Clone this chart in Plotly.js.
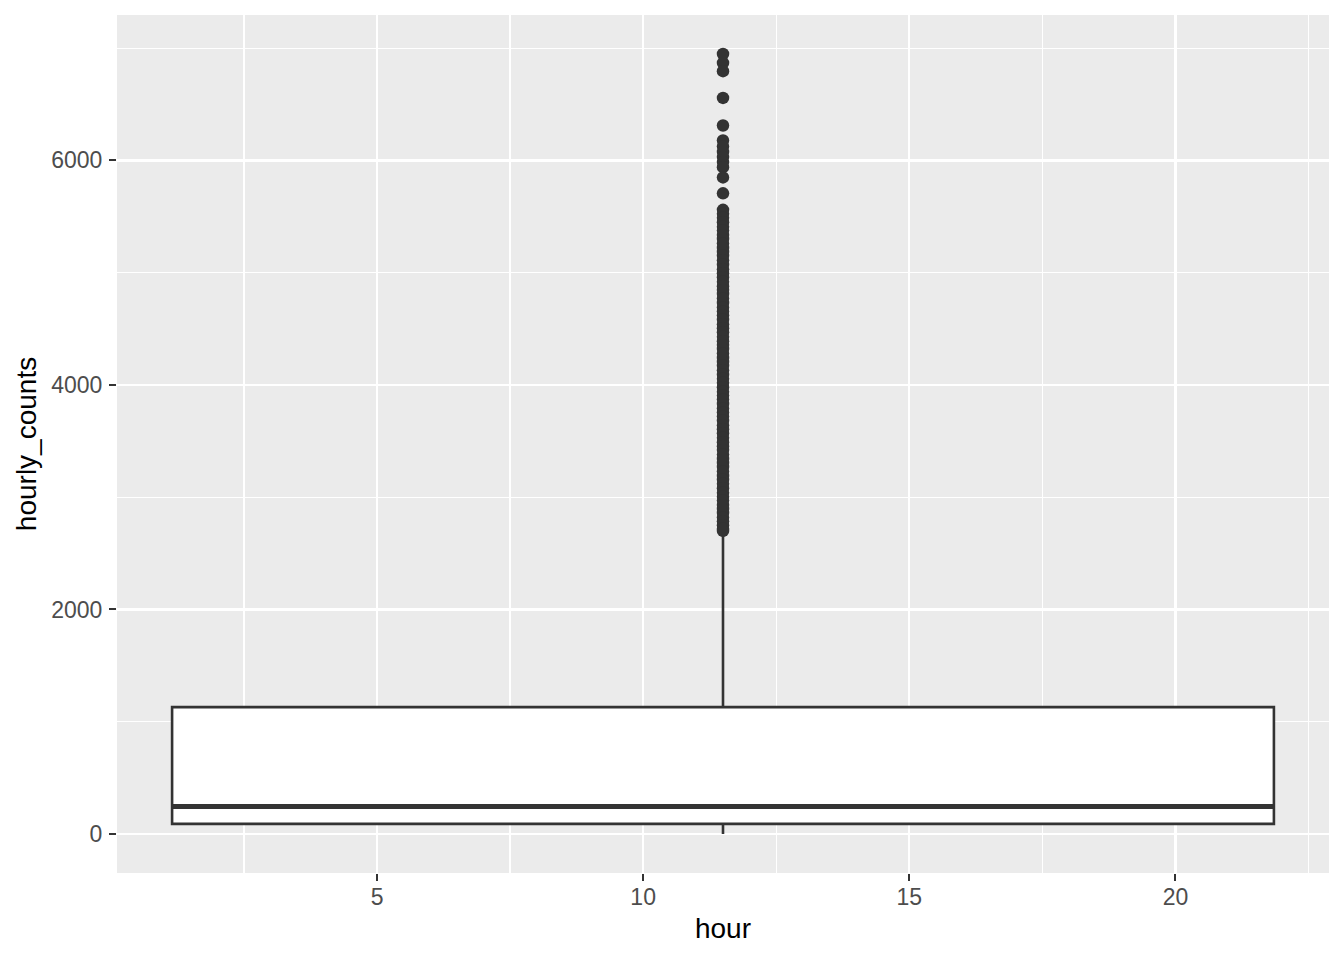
<!DOCTYPE html>
<html>
<head>
<meta charset="utf-8">
<script src="https://cdn.plot.ly/plotly-3.0.1.min.js"></script>
<style>
  html, body { margin: 0; padding: 0; background: #ffffff; }
  #chart { width: 1344px; height: 960px; }
</style>
</head>
<body>
<div id="chart"></div>
<script>
// hour covers 0..23, one box for the whole column (ggplot continuous x)
const hourRange = [0, 23];

// box stats for hourly_counts
const q1 = [90];
const median = [245];
const q3 = [1130];
const lowerFence = [0];
const upperFence = [2690];

// outliers, top to bottom
const outliers = [
  6948, 6868, 6795, 6557, 6311, 6178, 6125, 6075, 6030, 5985, 5940,
  5849, 5707, 5560, 5525, 5490, 5450, 5410, 5375, 5335, 5300, 5260,
  5220, 5185, 5150, 5110, 5070, 5030, 4995, 4960, 4920, 4880, 4845,
  4810, 4770, 4730, 4690, 4655, 4620, 4580, 4540, 4505, 4470, 4430,
  4390, 4355, 4320, 4280, 4240, 4205, 4170, 4130, 4090, 4055, 4020,
  3980, 3940, 3905, 3870, 3830, 3790, 3755, 3720, 3680, 3640, 3605,
  3570, 3530, 3490, 3455, 3420, 3380, 3340, 3305, 3270, 3230, 3190,
  3155, 3120, 3080, 3040, 3005, 2970, 2930, 2895, 2860, 2820, 2785,
  2750, 2720, 2700
];

const COLORS = {
  panel: '#EBEBEB',
  grid: '#FFFFFF',
  ink: '#333333',
  tickText: '#4D4D4D'
};

const center = (hourRange[0] + hourRange[1]) / 2;
const boxWidth = 0.9 * (hourRange[1] - hourRange[0]);
const halfW = boxWidth / 2;

const traces = [
  {
    type: 'box',
    x: [center],
    q1: q1, median: median, q3: q3,
    lowerfence: lowerFence, upperfence: upperFence,
    width: boxWidth,
    whiskerwidth: 0,
    fillcolor: '#FFFFFF',
    line: { color: COLORS.ink, width: 2.6 },
    hoverinfo: 'skip',
    showlegend: false
  },
  // thicker median bar like ggplot's fatten
  {
    type: 'scatter',
    mode: 'lines',
    x: [center - halfW, center + halfW],
    y: [median[0], median[0]],
    line: { color: COLORS.ink, width: 5 },
    hoverinfo: 'skip',
    showlegend: false
  },
  {
    type: 'scatter',
    mode: 'markers',
    x: outliers.map(() => center),
    y: outliers,
    marker: { color: COLORS.ink, size: 12.5, line: { width: 0 } },
    hoverinfo: 'y',
    showlegend: false
  }
];

// ggplot default: 5% expansion on each side
const xlo = center - halfW, xhi = center + halfW;
const xpad = (xhi - xlo) * 0.05;
const ymax = Math.max(...outliers), ymin = lowerFence[0];
const ypad = (ymax - ymin) * 0.05;

const axisBase = {
  showline: false,
  zeroline: false,
  ticks: 'outside',
  ticklen: 7,
  tickwidth: 2,
  tickcolor: COLORS.ink,
  tickfont: { family: 'Liberation Sans, Arial, sans-serif', size: 23, color: COLORS.tickText },
  gridcolor: COLORS.grid,
  gridwidth: 2.4,
  automargin: false
};

const layout = {
  width: 1344,
  height: 960,
  margin: { t: 15, r: 15, b: 87, l: 117 },
  paper_bgcolor: '#FFFFFF',
  plot_bgcolor: COLORS.panel,
  showlegend: false,
  font: { family: 'Liberation Sans, Arial, sans-serif' },
  xaxis: Object.assign({}, axisBase, {
    range: [xlo - xpad, xhi + xpad],
    tickvals: [5, 10, 15, 20],
    ticklabelstandoff: -4,
    minor: { dtick: 2.5, tick0: 0, gridcolor: COLORS.grid, gridwidth: 1.2, showgrid: true, ticks: '' },
    title: { text: 'hour', font: { size: 28, color: '#000000' }, standoff: 9 }
  }),
  yaxis: Object.assign({}, axisBase, {
    range: [ymin - ypad, ymax + ypad],
    tickvals: [0, 2000, 4000, 6000],
    ticklabelstandoff: 2,
    minor: { dtick: 1000, tick0: 0, gridcolor: COLORS.grid, gridwidth: 1.2, showgrid: true, ticks: '' },
    title: { text: 'hourly_counts', font: { size: 28, color: '#000000' }, standoff: 6 }
  })
};

Plotly.newPlot('chart', traces, layout, { displayModeBar: false, staticPlot: true });
</script>
</body>
</html>
